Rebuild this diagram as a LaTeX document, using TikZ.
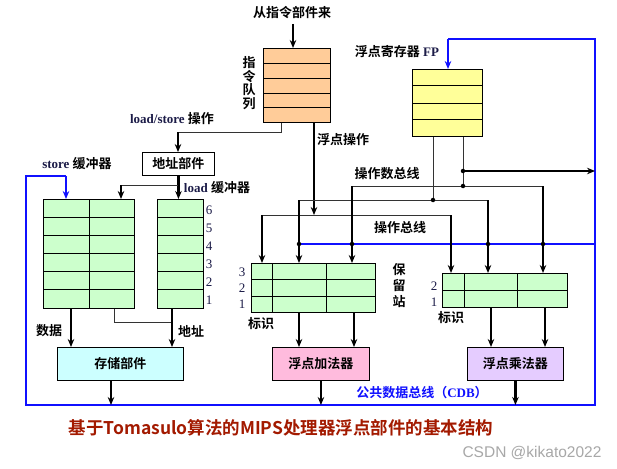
\documentclass[tikz,border=0pt]{standalone}
\usepackage{fontspec}
\setmainfont{Liberation Serif}
\newfontfamily\cjkfont[BoldFont={Noto Sans CJK SC Bold}]{Noto Sans CJK SC}
\newfontfamily\wmfont{Liberation Sans}
\usetikzlibrary{arrows.meta}
\definecolor{peach}{HTML}{FFCC99}
\definecolor{fpyellow}{HTML}{FFFF99}
\definecolor{bufgreen}{HTML}{CCFFCC}
\definecolor{memcyan}{HTML}{CCFFFF}
\definecolor{addpink}{HTML}{FFBBDD}
\definecolor{mullav}{HTML}{E5CCFF}
\definecolor{navy}{RGB}{28,28,72}
\definecolor{titlered}{HTML}{A31A00}
\definecolor{cdbblue}{HTML}{1010FF}
\definecolor{wmgray}{HTML}{A8A8A8}
\newcommand\zhb{\cjkfont\bfseries}
\tikzset{
  box/.style={draw=black, line width=0.9pt, inner sep=0pt, anchor=north west},
  gridl/.style={draw=black, line width=0.9pt},
  lbl/.style={inner sep=0pt, font=\fontsize{13}{14}\selectfont\zhb},
  latin/.style={inner sep=0pt, font=\fontsize{13}{14}\selectfont\bfseries},
  num/.style={inner sep=0pt, text=navy, font=\fontsize{13}{14}\selectfont},
  thinl/.style={draw=black!80, line width=1pt},
  arr/.style={draw=black, line width=2.5pt, -{Stealth[length=8pt,width=6.5pt]}},
  bluel/.style={draw=cdbblue, line width=1.4pt},
  bluearr/.style={draw=cdbblue, line width=2.3pt, -{Stealth[length=8pt,width=6.5pt]}},
  jdot/.style={circle, fill=black, inner sep=0pt, minimum size=4.5pt},
}
\begin{document}
\begin{tikzpicture}[x=1pt,y=-1pt]
\fill[white] (0,0) rectangle (617,468);
\useasboundingbox (0,0) rectangle (617,468);

% ---------- boxes ----------
\node[box, fill=peach, minimum width=67pt, minimum height=74pt] (iq) at (263,48) {};
\node[box, fill=fpyellow, minimum width=70pt, minimum height=67pt] (fp) at (412,69) {};
\node[box, fill=white, minimum width=72pt, minimum height=23pt] (addr) at (142,152) {};
\node[box, fill=bufgreen, minimum width=91pt, minimum height=109pt] (sb) at (43,199) {};
\node[box, fill=bufgreen, minimum width=46pt, minimum height=109pt] (lb) at (157,199) {};
\node[box, fill=memcyan, minimum width=126pt, minimum height=33pt] (mem) at (57,347) {};
\node[box, fill=bufgreen, minimum width=124pt, minimum height=49pt] (rsa) at (251,263) {};
\node[box, fill=bufgreen, minimum width=125pt, minimum height=34pt] (rsm) at (442,273) {};
\node[box, fill=addpink, minimum width=97pt, minimum height=33pt] (add) at (272,347) {};
\node[box, fill=mullav, minimum width=96pt, minimum height=33pt] (mul) at (467,347) {};

\node[lbl] (addrt) at (addr.center) {地址部件};
\node[lbl] (memt) at (mem.center) {存储部件};
\node[lbl] (addt) at (add.center) {浮点加法器};
\node[lbl] (mult) at (mul.center) {浮点乘法器};

% ---------- internal grid lines ----------
\foreach \y in {63,78,93,107} \draw[gridl] (263,\y) -- (330,\y);
\foreach \y in {85,103,119} \draw[gridl] (412,\y) -- (482,\y);
\foreach \y in {217.2,235.3,253.5,271.7,289.8} {
  \draw[gridl] (43,\y) -- (134,\y);
  \draw[gridl] (157,\y) -- (203,\y);
}
\draw[gridl] (89,199) -- (89,308);
\foreach \y in {279.5,296} \draw[gridl] (251,\y) -- (375,\y);
\foreach \x in {272,326} \draw[gridl] (\x,263) -- (\x,312);
\draw[gridl] (442,290) -- (567,290);
\foreach \x in {464,517} \draw[gridl] (\x,273) -- (\x,307);

% ---------- coordinates ----------
\coordinate (src) at (293,24);
\coordinate (opb) at (314,215);
\coordinate (opL) at (262,215);
\coordinate (opR) at (451,215);
\coordinate (fa) at (433,200);
\coordinate (faL) at (299,200);
\coordinate (faR) at (488,200);
\coordinate (fb) at (463,186);
\coordinate (fc) at (463,171);
\coordinate (fbL) at (352,186);
\coordinate (fbR) at (543,186);
\coordinate (cdbL) at (299,244);
\coordinate (cdbR) at (595,244);
\coordinate (bl) at (26,405);
\coordinate (br) at (595,405);
\coordinate (tr) at (595,39);
\coordinate (tl) at (448,39);
\coordinate (sl) at (26,176);
\coordinate (sr) at (66,176);
\coordinate (ls1) at (281,132);
\coordinate (ls2) at (178,132);
\coordinate (lb1) at (178,185);
\coordinate (lb2) at (121,185);
\coordinate (dataX) at (71,0);
\coordinate (sm) at (114,322);
\coordinate (adrX) at (172,0);
\coordinate (memX) at (111,0);
\coordinate (a1) at (299,0);
\coordinate (a2) at (354,0);
\coordinate (m1) at (491,0);
\coordinate (m2) at (545,0);

% ---------- blue CDB loop ----------
\draw[bluel] (sr) -- (sl) -- (bl) -- (br) -- (tr) -- (tl);
\draw[bluearr] (tl) -- (tl |- fp.north);
\draw[bluearr] (sr) -- (sr |- sb.north);
\draw[bluel] (cdbL) -- (cdbR);

% ---------- instruction flow ----------
\draw[arr] (src) -- (src |- iq.north);
\draw[arr] (iq.south -| opb) -- (opb);
\draw[thinl] (opL) -- (opR);
\draw[arr] (opL) -- (opL |- rsa.north);
\draw[arr] (opR) -- (opR |- rsm.north);

\draw[thinl] (iq.south -| ls1) -- (ls1) -- (ls2);
\draw[arr] (ls2) -- (ls2 |- addr.north);
\draw[arr] (addr.south) -- (addr.south |- lb.north);
\draw[thinl] (lb1) -- (lb2);
\draw[arr] (lb2) -- (lb2 |- sb.north);

% ---------- FP register outputs ----------
\draw[thinl] (fp.south -| fa) -- (fa);
\draw[thinl] (faL) -- (faR);
\draw[arr] (faL) -- (faL |- rsa.north);
\draw[arr] (faR) -- (faR |- rsm.north);
\draw[thinl] (fp.south -| fb) -- (fb);
\draw[thinl] (fbL) -- (fbR);
\draw[arr] (fbL) -- (fbL |- rsa.north);
\draw[arr] (fbR) -- (fbR |- rsm.north);
\draw[arr] (fc) -- (fc -| cdbR);

\node[jdot] (j1) at (fa) {};
\node[jdot] (j2) at (fb) {};
\node[jdot] (j3) at (fc) {};
\node[jdot] (j4) at (cdbL) {};
\node[jdot] (j5) at (fbL |- cdbL) {};
\node[jdot] (j6) at (faR |- cdbL) {};
\node[jdot] (j7) at (fbR |- cdbL) {};

% ---------- buffers to memory unit ----------
\draw[arr] (sb.south -| dataX) -- (mem.north -| dataX);
\draw[thinl] (sb.south -| sm) -- (sm) -- (sm -| adrX);
\draw[arr] (lb.south -| adrX) -- (mem.north -| adrX);
\draw[arr] (mem.south -| memX) -- (bl -| memX);

% ---------- reservation stations to units ----------
\draw[arr] (rsa.south -| a1) -- (add.north -| a1);
\draw[arr] (rsa.south -| a2) -- (add.north -| a2);
\draw[arr] (rsm.south -| m1) -- (mul.north -| m1);
\draw[arr] (rsm.south -| m2) -- (mul.north -| m2);
\draw[arr] (add.south) -- (add.south |- bl);
\draw[arr] (mul.south) -- (mul.south |- bl);

% ---------- labels ----------
\node[lbl] (tsrc) at (292,13) {从指令部件来};
\node[lbl, align=center, font=\fontsize{13}{13.7}\selectfont\zhb] (tiq) at (249,83) {指\\令\\队\\列};
\node[latin] (tls) at (172,119) {\textcolor{navy}{load/store} {\zhb 操作}};
\node[latin] (tfp) at (397,52) {{\zhb 浮点寄存器} \textcolor{navy}{FP}};
\node[lbl] (tfpop) at (343,140) {浮点操作};
\node[latin] (tsbuf) at (77,164) {\textcolor{navy}{store} {\zhb 缓冲器}};
\node[latin] (tlbuf) at (217,188) {\textcolor{navy}{load} {\zhb 缓冲器}};
\node[lbl] (topd) at (387,174) {操作数总线};
\node[lbl] (topb) at (400,228) {操作总线};
\node[num] (n6) at (209,210) {6};
\node[num] (n5) at (209,228) {5};
\node[num] (n4) at (209,246) {4};
\node[num] (n3) at (209,264) {3};
\node[num] (n2) at (209,282) {2};
\node[num] (n1) at (209,300) {1};
\node[lbl] (tdata) at (49,331) {数据};
\node[lbl] (taddr) at (191,331) {地址};
\node[num] (ra3) at (242,272) {3};
\node[num] (ra2) at (242,288) {2};
\node[num] (ra1) at (242,304) {1};
\node[num] (rm2) at (434,286) {2};
\node[num] (rm1) at (434,302) {1};
\node[lbl] (tida) at (261,324) {标识};
\node[lbl] (tidm) at (451,318) {标识};
\node[lbl, align=center, font=\fontsize{13}{16}\selectfont\zhb] (trs) at (399,286) {保\\留\\站};
\node[latin, text=cdbblue] (tcdb) at (422,393) {{\zhb 公共数据总线（}CDB{\zhb ）}};
\node[inner sep=0pt, text=titlered, font=\fontsize{17.5}{18}\selectfont\zhb] (title) at (281,428) {基于Tomasulo算法的MIPS处理器浮点部件的基本结构};
\node[inner sep=0pt, text=wmgray, font=\fontsize{15.5}{16}\selectfont\wmfont] (wm) at (532,453) {CSDN @kikato2022};
\end{tikzpicture}
\end{document}
